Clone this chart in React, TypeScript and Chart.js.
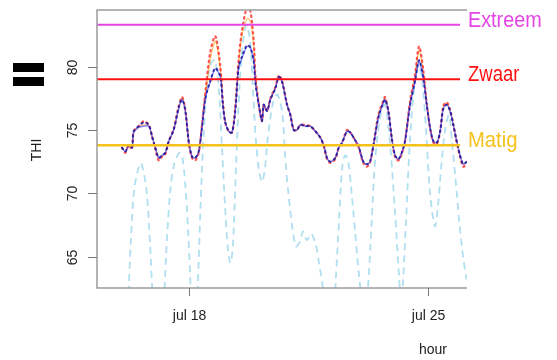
import React, { useEffect, useRef } from "react";
import { Chart, registerables } from "chart.js";

Chart.register(...registerables);

// hours relative to 18 July 00:00
const mainHours = [
  -47.1, -44.8, -42.4, -40.1, -38.9, -35.4, -31.8, -28.3, -26.0, -23.7,
  -21.3, -19.0, -16.7, -14.3, -10.8, -7.2, -4.9, -2.6, -0.2, 2.1,
  4.4, 6.8, 9.1, 11.5, 15.0, 18.5, 22.0, 23.8, 25.5, 27.9,
  30.2, 32.5, 34.9, 37.3, 40.8, 43.1, 45.5, 46.6, 49.0, 51.3,
  52.5, 54.8, 57.2, 60.7, 63.1, 65.4, 68.9, 71.2, 73.6, 75.9,
  78.2, 81.8, 85.3, 88.8, 92.3, 94.7, 97.0, 99.3, 102.8, 105.2,
  107.6, 111.1, 113.4, 116.7, 119.0, 122.5, 124.9, 127.2, 129.6, 133.1,
  136.6, 137.8, 140.1, 142.5, 144.8, 147.2, 149.5, 151.8, 155.4, 158.9,
  161.7, 164.7, 167.1, 169.4, 171.8, 174.2, 176.5, 178.8, 181.2, 183.5,
  185.8, 188.2, 190.5, 192.8, 195.2,
];

const blueValues = [
  73.6, 73.3, 73.8, 73.6, 74.8, 75.2, 75.3, 75.3, 74.5, 73.6,
  72.8, 73.0, 73.2, 74.1, 75.0, 76.7, 77.4, 76.5, 74.1, 72.9,
  72.8, 73.3, 75.2, 77.5, 78.8, 79.8, 79.2, 77.0, 75.6, 74.9,
  74.8, 76.5, 79.9, 80.7, 81.6, 81.5, 80.4, 78.8, 77.0, 75.7,
  77.0, 76.5, 77.4, 78.3, 79.2, 78.8, 77.0, 76.2, 75.0, 75.0,
  75.4, 75.3, 75.3, 74.9, 74.4, 73.8, 72.8, 72.5, 72.8, 73.6,
  74.0, 74.9, 74.8, 74.2, 73.8, 72.5, 72.3, 72.5, 73.8, 76.0,
  77.1, 77.4, 76.5, 74.4, 73.0, 72.7, 73.2, 74.1, 77.0, 78.8,
  80.4, 79.1, 77.0, 75.2, 74.1, 74.0, 74.9, 76.7, 77.0, 76.5,
  75.4, 74.1, 73.0, 72.3, 72.5,
];

const darkBlueValues = [
  73.6, 73.3, 73.8, 73.6, 74.9, 75.3, 75.6, 75.4, 74.5, 73.6,
  72.8, 73.0, 73.2, 74.1, 75.0, 76.8, 77.4, 76.5, 74.1, 72.9,
  72.8, 73.3, 75.2, 77.5, 78.9, 79.9, 79.2, 77.0, 75.6, 74.9,
  74.8, 76.5, 80.0, 80.8, 81.7, 81.5, 80.4, 78.8, 77.0, 75.7,
  77.0, 76.5, 77.4, 78.3, 79.2, 78.8, 77.0, 76.2, 75.0, 75.0,
  75.4, 75.3, 75.3, 74.9, 74.4, 73.8, 72.8, 72.5, 72.8, 73.6,
  74.0, 74.9, 74.8, 74.2, 73.8, 72.5, 72.3, 72.5, 73.8, 76.0,
  77.2, 77.4, 76.5, 74.4, 73.0, 72.7, 73.2, 74.1, 77.0, 78.9,
  80.5, 79.1, 77.0, 75.2, 74.1, 74.0, 74.9, 76.7, 77.0, 76.5,
  75.4, 74.1, 73.0, 72.3, 72.5,
];

const orangeValues = [
  73.6, 73.3, 73.8, 73.6, 74.8, 75.2, 75.4, 75.3, 74.5, 73.6,
  72.8, 73.0, 73.2, 74.1, 75.0, 76.8, 77.5, 76.5, 74.1, 72.9,
  72.8, 73.3, 75.3, 77.8, 80.6, 82.0, 79.7, 77.1, 75.6, 74.9,
  74.8, 76.7, 80.3, 82.5, 83.8, 83.6, 81.6, 79.2, 77.0, 75.7,
  77.0, 76.5, 77.4, 78.3, 79.2, 78.8, 77.0, 76.2, 75.0, 75.0,
  75.4, 75.3, 75.3, 74.9, 74.4, 73.8, 72.8, 72.5, 72.8, 73.6,
  74.0, 74.9, 74.8, 74.2, 73.8, 72.5, 72.3, 72.5, 73.8, 76.1,
  77.2, 77.5, 76.5, 74.4, 73.0, 72.7, 73.2, 74.1, 77.1, 79.2,
  81.3, 79.5, 77.0, 75.2, 74.1, 74.0, 74.9, 76.8, 77.1, 76.5,
  75.4, 74.1, 73.0, 72.3, 72.5,
];

const redValues = [
  73.6, 73.2, 73.8, 73.5, 74.9, 75.3, 75.7, 75.4, 74.5, 73.5,
  72.6, 72.9, 73.1, 74.1, 75.1, 76.9, 77.6, 76.6, 74.0, 72.8,
  72.6, 73.2, 75.4, 78.0, 81.2, 82.4, 80.0, 77.2, 75.6, 74.9,
  74.8, 76.8, 80.6, 82.9, 84.7, 84.4, 82.0, 79.4, 77.1, 75.7,
  77.0, 76.5, 77.5, 78.4, 79.3, 78.9, 77.0, 76.2, 75.0, 75.0,
  75.4, 75.4, 75.3, 74.9, 74.4, 73.7, 72.7, 72.4, 72.7, 73.6,
  74.0, 75.0, 74.8, 74.2, 73.7, 72.4, 72.1, 72.4, 73.8, 76.2,
  77.3, 77.6, 76.5, 74.3, 72.9, 72.6, 73.1, 74.1, 77.3, 79.4,
  81.6, 79.7, 77.1, 75.2, 74.0, 73.9, 74.9, 76.9, 77.2, 76.6,
  75.4, 74.0, 72.9, 72.1, 72.4,
];

const lightHours = [
  -47.5, -45.0, -42.9, -40.8, -38.3, -34.1, -31.6, -29.5, -27.4, -25.3,
  -21.8, -18.3, -16.2, -13.4, -10.5, -7.0, -4.9, -2.5, -0.4, 1.4,
  3.5, 6.0, 8.1, 10.2, 12.7, 15.5, 18.3, 21.1, 23.2, 25.3,
  27.4, 29.2, 30.9, 33.0, 35.5, 38.0, 40.4, 42.9, 45.0, 47.1,
  49.2, 51.3, 53.4, 55.5, 59.1, 62.0, 65.4, 67.5, 69.6, 72.4,
  75.2, 78.0, 80.1, 82.9, 85.8, 88.6, 91.4, 94.2, 97.7, 101.2,
  103.3, 105.5, 107.6, 109.7, 111.8, 113.9, 116.7, 119.5, 121.6, 123.7,
  125.8, 128.3, 130.7, 134.3, 137.8, 139.9, 142.0, 144.8, 147.6, 149.0,
  150.4, 152.6, 154.7, 157.5, 161.0, 163.8, 166.6, 169.4, 172.9, 175.0,
  177.2, 180.0, 182.8, 184.9, 187.0, 189.8, 192.6, 195.1,
];

const lightValues = [
  59.5, 58.5, 61.5, 66.5, 70.5, 72.4, 71.5, 69.8, 66.0, 61.5,
  58.0, 60.5, 65.0, 70.0, 72.3, 73.2, 73.0, 70.5, 66.5, 62.0,
  59.0, 62.5, 69.0, 74.5, 78.5, 80.3, 80.5, 78.0, 73.5, 69.0,
  65.5, 64.5, 66.0, 72.0, 78.5, 82.0, 83.3, 82.0, 78.0, 74.0,
  71.8, 70.9, 72.0, 74.5, 77.2, 77.8, 76.5, 73.0, 70.3, 67.5,
  65.8, 66.2, 67.0, 66.3, 66.8, 66.2, 64.5, 62.5, 59.5, 60.0,
  63.5, 68.0, 72.0, 73.0, 72.6, 70.5, 67.0, 63.5, 61.5, 60.0,
  62.5, 67.5, 72.5, 76.0, 77.0, 75.5, 73.0, 68.5, 63.5, 61.5,
  63.0, 68.0, 73.0, 77.5, 80.2, 79.0, 75.0, 70.0, 67.4, 69.0,
  72.0, 75.0, 76.2, 74.0, 71.5, 68.0, 65.0, 63.2,
];

const thresholdValues = [73.8, 79.0, 83.3];
const thresholdLabels = ["Matig", "Zwaar", "Extreem"];
const thresholdEndHour = 190.5;

const xTickHours = [0, 168];
const xTickLabels = ["jul 18", "jul 25"];
const yTickValues = [65, 70, 75, 80];

const X_MIN = -64.7;
const X_MAX = 195.4;
const Y_MIN = 62.53;
const Y_MAX = 84.47;

const thresholdColors = ["#f5c21b", "#ff1010", "#e444e4"];

const pts = (xs: number[], ys: number[]) => xs.map((x, i) => ({ x, y: ys[i] }));

const decoPlugin = {
  id: "deco",
  afterDraw(chart: any) {
    const { ctx, chartArea: a, scales } = chart;
    const xs = scales.x;
    const ys = scales.y;
    ctx.save();
    // frame
    ctx.strokeStyle = "#9c9c9c";
    ctx.lineWidth = 1.5;
    ctx.beginPath();
    ctx.moveTo(a.right, a.top);
    ctx.lineTo(a.left, a.top);
    ctx.lineTo(a.left, a.bottom);
    ctx.lineTo(a.right, a.bottom);
    ctx.stroke();

    ctx.strokeStyle = "#777";
    ctx.lineWidth = 1;
    ctx.fillStyle = "#222";
    ctx.font = '14px "Liberation Sans", Arial, sans-serif';
    // y ticks
    yTickValues.forEach((v) => {
      const py = Math.round(ys.getPixelForValue(v)) + 0.5;
      ctx.beginPath();
      ctx.moveTo(a.left - 9, py);
      ctx.lineTo(a.left, py);
      ctx.stroke();
      ctx.save();
      ctx.translate(a.left - 24, py);
      ctx.rotate(-Math.PI / 2);
      ctx.textAlign = "center";
      ctx.textBaseline = "middle";
      ctx.fillText(String(v), 0, 0);
      ctx.restore();
    });
    // x ticks
    xTickHours.forEach((h, i) => {
      const px = Math.round(xs.getPixelForValue(h)) + 0.5;
      ctx.beginPath();
      ctx.moveTo(px, a.bottom);
      ctx.lineTo(px, a.bottom + 8);
      ctx.stroke();
      ctx.textAlign = "center";
      ctx.textBaseline = "middle";
      ctx.fillText(xTickLabels[i], px, a.bottom + 28);
    });
    // axis titles
    ctx.textAlign = "center";
    ctx.textBaseline = "middle";
    ctx.fillText("hour", 433, a.bottom + 62);
    ctx.save();
    ctx.translate(37, 150);
    ctx.rotate(-Math.PI / 2);
    ctx.fillText("THI", 0, 0);
    ctx.restore();

    // threshold labels (slightly condensed)
    ctx.font = '22px "Liberation Sans", Arial, sans-serif';
    ctx.textAlign = "left";
    ctx.textBaseline = "alphabetic";
    const squeeze = [0.92, 0.84, 0.9];
    thresholdValues.forEach((v, i) => {
      const py = ys.getPixelForValue(v);
      ctx.save();
      ctx.translate(a.right + 1, py + 2);
      ctx.scale(squeeze[i], 1);
      ctx.fillStyle = thresholdColors[i];
      ctx.fillText(thresholdLabels[i], 0, 0);
      ctx.restore();
    });

    // "=" mark
    ctx.fillStyle = "#000";
    ctx.fillRect(13, 63, 31, 9);
    ctx.fillRect(13, 77, 31, 9);
    ctx.restore();
  },
};

export default function App() {
  const ref = useRef<HTMLCanvasElement | null>(null);
  useEffect(() => {
    if (!ref.current) return;
    const thresholdSets = thresholdValues.map((v, i) => ({
      label: thresholdLabels[i],
      data: [
        { x: X_MIN, y: v },
        { x: thresholdEndHour, y: v },
      ],
      borderColor: thresholdColors[i],
      borderWidth: i === 0 ? 2.5 : 2,
      pointRadius: 0,
      order: 0,
    }));
    const chart = new Chart(ref.current, {
      type: "line",
      data: {
        datasets: [
          ...thresholdSets,
          {
            label: "darkblue",
            data: pts(mainHours, darkBlueValues),
            borderColor: "rgba(25,25,160,0.85)",
            borderWidth: 2,
            borderDash: [1.5, 4],
            borderCapStyle: "round",
            pointRadius: 0,
            tension: 0.3,
            order: 1,
          },
          {
            label: "blue",
            data: pts(mainHours, blueValues),
            borderColor: "rgba(85,85,255,0.7)",
            borderWidth: 1.4,
            pointRadius: 0,
            tension: 0.3,
            order: 2,
          },
          {
            label: "red",
            data: pts(mainHours, redValues),
            borderColor: "rgba(255,30,30,0.75)",
            borderWidth: 2.2,
            borderDash: [1.5, 4],
            borderCapStyle: "round",
            pointRadius: 0,
            tension: 0.3,
            order: 3,
          },
          {
            label: "orange",
            data: pts(mainHours, orangeValues),
            borderColor: "rgba(255,180,70,0.75)",
            borderWidth: 1.3,
            pointRadius: 0,
            tension: 0.3,
            order: 4,
          },
          {
            label: "lightblue",
            data: pts(lightHours, lightValues),
            borderColor: "#b0dff0",
            borderWidth: 1.8,
            borderDash: [7, 5],
            pointRadius: 0,
            tension: 0.3,
            order: 5,
          },
        ],
      },
      options: {
        animation: false,
        responsive: false,
        devicePixelRatio: 1,
        layout: { padding: { left: 97, top: 10, right: 90, bottom: 72 } },
        plugins: { legend: { display: false }, tooltip: { enabled: false } },
        scales: {
          x: { type: "linear", min: X_MIN, max: X_MAX, display: false },
          y: { type: "linear", min: Y_MIN, max: Y_MAX, display: false },
        },
      },
      plugins: [decoPlugin],
    } as any);
    return () => chart.destroy();
  }, []);
  return (
    <div style={{ position: "absolute", left: 0, top: 0, width: 557, height: 360, background: "#fff" }}>
      <canvas ref={ref} width={557} height={360} style={{ width: 557, height: 360, display: "block" }} />
    </div>
  );
}
